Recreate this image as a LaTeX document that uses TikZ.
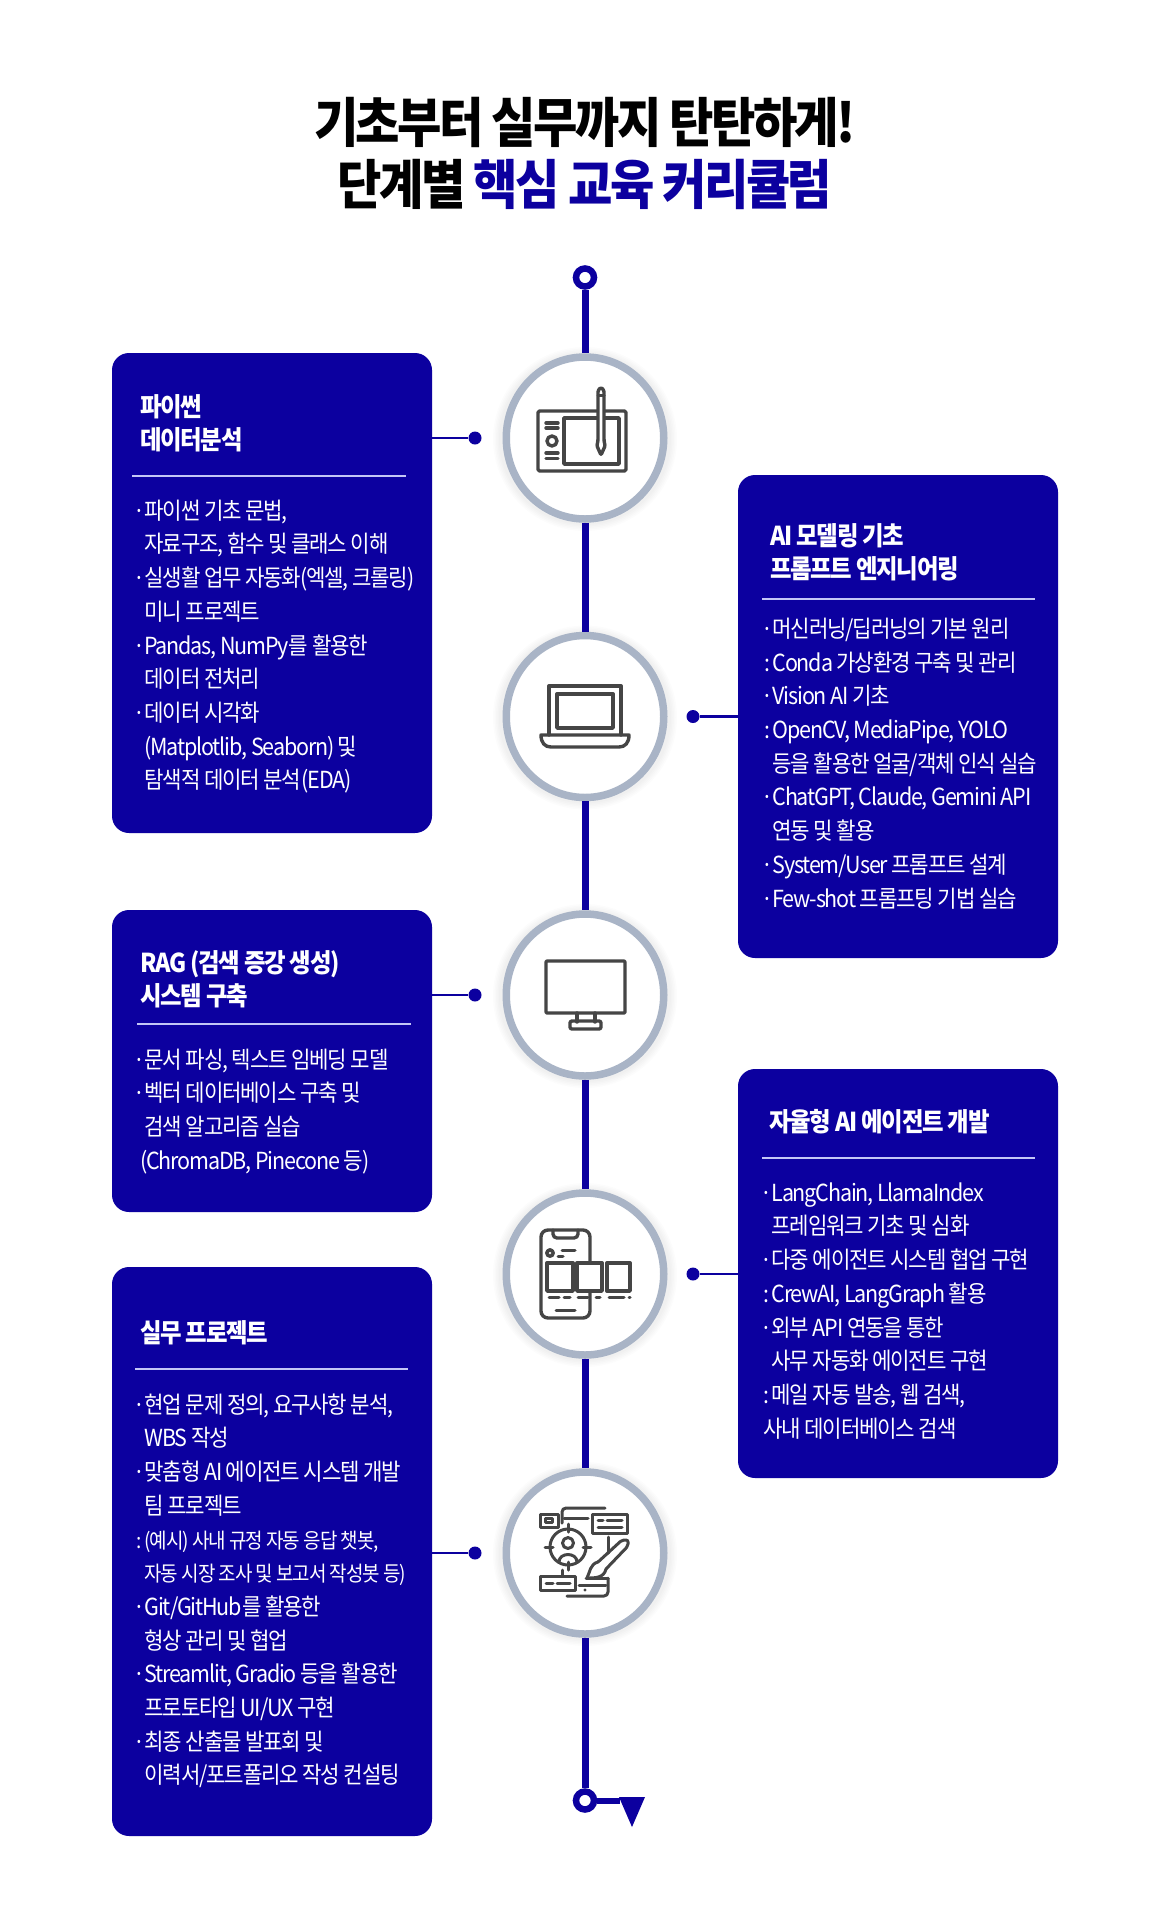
\documentclass[tikz,border=0pt]{standalone}
\usepackage{fontspec}
\usetikzlibrary{shapes.geometric}
\setmainfont[FakeStretch=.9,LetterSpace=-5]{Noto Sans CJK KR}
\newfontfamily\latf[FakeStretch=.915,LetterSpace=-5]{Noto Sans CJK KR}
\definecolor{navy}{HTML}{0C009F}
\definecolor{ringc}{HTML}{A9B4C6}
\definecolor{iconc}{HTML}{454545}
\definecolor{divc}{HTML}{C4C6F6}
\newcommand{\ibu}{\makebox[8.3pt][l]{\hspace*{-3.2pt}·}}
\newcommand{\icl}{\makebox[8.3pt][l]{:}}
\newcommand{\iin}{\hspace*{8.3pt}}
\newcommand{\fst}{\rule{0pt}{20pt}}
\newcommand{\la}[1]{{\latf #1}}
\tikzset{
  box/.style={fill=navy,draw=none,rounded corners=17pt,minimum width=320pt,inner sep=0pt},
  stage/.style={ellipse,draw=ringc,fill=white,line width=7.5pt,minimum width=157.5pt,minimum height=162pt,inner sep=0pt},
  endring/.style={circle,draw=navy,fill=white,line width=6.5pt,minimum size=18pt,inner sep=0pt},
  dot/.style={circle,fill=navy,minimum size=13pt,inner sep=0pt},
  spine/.style={draw=navy,line width=7pt},
  conn/.style={draw=navy,line width=2.8pt},
  divider/.style={draw=divc,line width=1.2pt},
  boxtitle/.style={anchor=north west,align=left,inner sep=0pt,text=white,font=\fontsize{26}{33}\selectfont\bfseries},
  boxbody/.style={anchor=north west,align=left,inner sep=0pt,text=white,font=\fontsize{23.5}{33.7}\selectfont},
  headline/.style={anchor=base,inner sep=0pt,font=\fontsize{53.6}{62}\selectfont\bfseries},
  icon/.style={draw=iconc,line width=3.4pt,line cap=round,line join=round},
  iconthin/.style={draw=iconc,line width=3pt,line cap=round,line join=round},
  halo/.style={fill=black,opacity=.012},
}
\begin{document}
\begin{tikzpicture}[x=1pt,y=-1pt]
\useasboundingbox[fill=white] (0,0) rectangle (1170,1925);
% headline
\node[headline] (t1) at (585,142.5) {기초부터 실무까지 탄탄하게!};
\node[headline] (t2) at (585,204.5) {단계별 \textcolor{navy}{핵심 교육 커리큘럼}};
% soft halos
\foreach \cy in {438,716.5,995,1274,1553}{
  \foreach \r in {86,87.5,89,90.5,92}{\fill[halo] (585,\cy+1) circle (\r pt);}
}
% stage circles and end rings
\node[endring] (r0) at (585,277.5) {};
\node[stage] (c1) at (585,438) {};
\node[stage] (c2) at (585,716.5) {};
\node[stage] (c3) at (585,995) {};
\node[stage] (c4) at (585,1274) {};
\node[stage] (c5) at (585,1553) {};
\node[endring] (r1) at (585,1800.5) {};
\draw[spine] (r0.south) -- (c1.north);
\draw[spine] (c1.south) -- (c2.north);
\draw[spine] (c2.south) -- (c3.north);
\draw[spine] (c3.south) -- (c4.north);
\draw[spine] (c4.south) -- (c5.north);
\draw[spine] (c5.south) -- (r1.north);
% end flag
\coordinate (flag) at (620,1800.5);
\draw[navy,line width=6pt] (r1.east) -- (flag);
\fill[navy] (619,1797) -- (645,1797) -- (632,1827) -- cycle;
% boxes
\node[box,minimum height=480pt] (b1) at (272,593) {};
\node[box,minimum height=483pt] (b2) at (898,716.5) {};
\node[box,minimum height=302pt] (b3) at (272,1061) {};
\node[box,minimum height=409pt] (b4) at (898,1273.5) {};
\node[box,minimum height=569pt] (b5) at (272,1551.5) {};
% connector dots
\node[dot] (d1) at (475,438) {};
\node[dot] (d2) at (693,716.5) {};
\node[dot] (d3) at (475,995) {};
\node[dot] (d4) at (693,1274) {};
\node[dot] (d5) at (475,1553) {};
\draw[conn] (b1.east |- d1) -- (d1);
\draw[conn] (b2.west |- d2) -- (d2);
\draw[conn] (b3.east |- d3) -- (d3);
\draw[conn] (b4.west |- d4) -- (d4);
\draw[conn] (b5.east |- d5) -- (d5);
% dividers
\draw[divider] (132,476) -- (406,476);
\draw[divider] (762,599) -- (1035,599);
\draw[divider] (137,1024) -- (411,1024);
\draw[divider] (762,1158) -- (1035,1158);
\draw[divider] (135,1369) -- (408,1369);
% box 1
\node[boxtitle] (h1) at (140,394.5) {\fst 파이썬\\데이터분석};
\node[boxbody] (p1) at (136,499) {\fst\ibu 파이썬 기초 문법,\\
\iin 자료구조, 함수 및 클래스 이해\\
\ibu 실생활 업무 자동화(엑셀, 크롤링)\\
\iin 미니 프로젝트\\
\ibu \la{Pandas, NumPy}를 활용한\\
\iin 데이터 전처리\\
\ibu 데이터 시각화\\
\iin \la{(Matplotlib, Seaborn)} 및\\
\iin 탐색적 데이터 분석\la{(EDA)}};
% box 2
\node[boxtitle] (h2) at (770,523.5) {\fst AI 모델링 기초\\프롬프트 엔지니어링};
\node[boxbody] (p2) at (764,617.2) {\fst\ibu 머신러닝/딥러닝의 기본 원리\\
\icl \la{Conda} 가상환경 구축 및 관리\\
\ibu \la{Vision AI} 기초\\
\icl \la{OpenCV, MediaPipe, YOLO}\\
\iin 등을 활용한 얼굴/객체 인식 실습\\
\ibu \la{ChatGPT, Claude, Gemini API}\\
\iin 연동 및 활용\\
\ibu \la{System/User} 프롬프트 설계\\
\ibu \la{Few-shot} 프롬프팅 기법 실습};
% box 3
\node[boxtitle] (h3) at (140,950.5) {\fst RAG (검색 증강 생성)\\시스템 구축};
\node[boxbody] (p3) at (136,1048) {\fst\ibu 문서 파싱, 텍스트 임베딩 모델\\
\ibu 벡터 데이터베이스 구축 및\\
\iin 검색 알고리즘 실습\\
\hspace*{4pt}\la{(ChromaDB, Pinecone} 등)};
% box 4
\node[boxtitle] (h4) at (769,1109.5) {\fst 자율형 AI 에이전트 개발};
\node[boxbody] (p4) at (763,1181) {\fst\ibu \la{LangChain, LlamaIndex}\\
\iin 프레임워크 기초 및 심화\\
\ibu 다중 에이전트 시스템 협업 구현\\
\icl \la{CrewAI, LangGraph} 활용\\
\ibu 외부 \la{API} 연동을 통한\\
\iin 사무 자동화 에이전트 구현\\
\icl 메일 자동 발송, 웹 검색,\\
사내 데이터베이스 검색};
% box 5
\node[boxtitle] (h5) at (140,1320.5) {\fst 실무 프로젝트};
\node[boxbody] (p5) at (136,1393) {\fst\ibu 현업 문제 정의, 요구사항 분석,\\
\iin \la{WBS} 작성\\
\ibu 맞춤형 \la{AI} 에이전트 시스템 개발\\
\iin 팀 프로젝트\\
{\fontsize{21.1}{33.7}\selectfont\icl (예시) 사내 규정 자동 응답 챗봇,}\\
{\fontsize{21.1}{33.7}\selectfont\iin 자동 시장 조사 및 보고서 작성봇 등)}\\
\ibu \la{Git/GitHub}를 활용한\\
\iin 형상 관리 및 협업\\
\ibu \la{Streamlit, Gradio} 등을 활용한\\
\iin 프로토타입 \la{UI/UX} 구현\\
\ibu 최종 산출물 발표회 및\\
\iin 이력서/포트폴리오 작성 컨설팅};
% icon 1: drawing tablet
\draw[icon,rounded corners=1.5pt] (538,411) rectangle (626,471);
\draw[icon] (564,418) rectangle (619,464);
\draw[icon] (546,423) -- (558,423) (546,428) -- (558,428) (546,453) -- (558,453) (546,458.5) -- (558,458.5);
\draw[icon] (552,441) circle (5pt);
\draw[icon,fill=white,rounded corners=1pt] (598,440) -- (598,391) -- (600,388) -- (602,388) -- (604,391) -- (604,440) -- (605,446) -- (601,455) -- (597,446) -- cycle;
\draw[iconthin] (598,395) -- (604,395);
% icon 2: laptop
\draw[icon] (549,735) -- (549,686) -- (621,686) -- (621,735);
\draw[icon] (557,694) rectangle (613,728);
\draw[icon] (541,735) -- (629,735) .. controls (629,743) and (625,747) .. (619,747) -- (551,747) .. controls (545,747) and (541,743) .. (541,735) -- cycle;
% icon 3: monitor
\draw[icon,rounded corners=1pt] (546,961) rectangle (625,1013);
\draw[icon] (577,1013) -- (577,1022) (595,1013) -- (595,1022);
\draw[icon,rounded corners=2pt] (570,1021) rectangle (601,1029);
% icon 4: phone with cards
\draw[icon,rounded corners=7pt] (541,1230) rectangle (590,1318);
\draw[icon,rounded corners=4pt] (553,1230) -- (553,1238) -- (578,1238) -- (578,1230);
\draw[icon,fill=iconc!15] (550,1253) circle (3.2pt);
\draw[iconthin] (562,1250) -- (575,1250) (558,1256) -- (563,1256);
\draw[icon,fill=white] (547,1263) rectangle (573,1291);
\draw[icon,fill=white] (577,1263) rectangle (602,1291);
\draw[icon,fill=white] (607,1263) rectangle (630,1291);
\draw[iconthin] (549,1297) -- (559,1297) (564,1297) -- (570,1297) (578,1297) -- (588,1297) (596,1297) -- (600,1297) (609,1297) -- (624,1297) (629,1297) -- (630,1297);
\draw[iconthin] (556,1310) -- (575,1310);
% icon 5: design targeting
\draw[iconthin] (540,1514) rectangle (558,1527);
\draw[iconthin] (545,1518.5) rectangle (552,1522.5);
\draw[iconthin] (592,1514) rectangle (627,1533);
\draw[iconthin] (598,1520) -- (603,1520) (607,1520) -- (622,1520) (598,1527) -- (622,1527);
\draw[iconthin,rounded corners=4pt] (562,1523) -- (562,1508) -- (605,1508);
\draw[iconthin] (564,1518) -- (588,1518);
\draw[iconthin] (568,1547) circle (18pt);
\draw[iconthin] (568,1524) -- (568,1532) (568,1562) -- (568,1570) (545,1547) -- (553,1547) (583,1547) -- (591,1547);
\draw[iconthin] (568,1543) circle (5.5pt);
\draw[iconthin] (559,1562) .. controls (559,1552) and (577,1552) .. (577,1562);
\draw[iconthin] (562,1570) -- (562,1576);
\draw[iconthin] (540,1576) rectangle (575,1590);
\draw[iconthin] (546,1583) -- (553,1583) (557,1583) -- (570,1583);
\draw[iconthin] (608,1537) -- (608,1553);
\draw[iconthin,rounded corners=2pt] (598,1562) -- (622,1540) -- (628,1540) -- (628,1546) -- (606,1569);
\draw[iconthin] (598,1562) .. controls (590,1564) and (590,1572) .. (587,1578) .. controls (595,1578) and (604,1578) .. (606,1569);
\draw[iconthin] (586,1578) -- (608,1578);
\draw[iconthin,rounded corners=4pt] (608,1578) -- (608,1596) -- (567,1596);
\draw[iconthin] (579,1585) -- (606,1585);
\fill[iconc] (585,1590) circle (1.6pt);
\end{tikzpicture}
\end{document}
